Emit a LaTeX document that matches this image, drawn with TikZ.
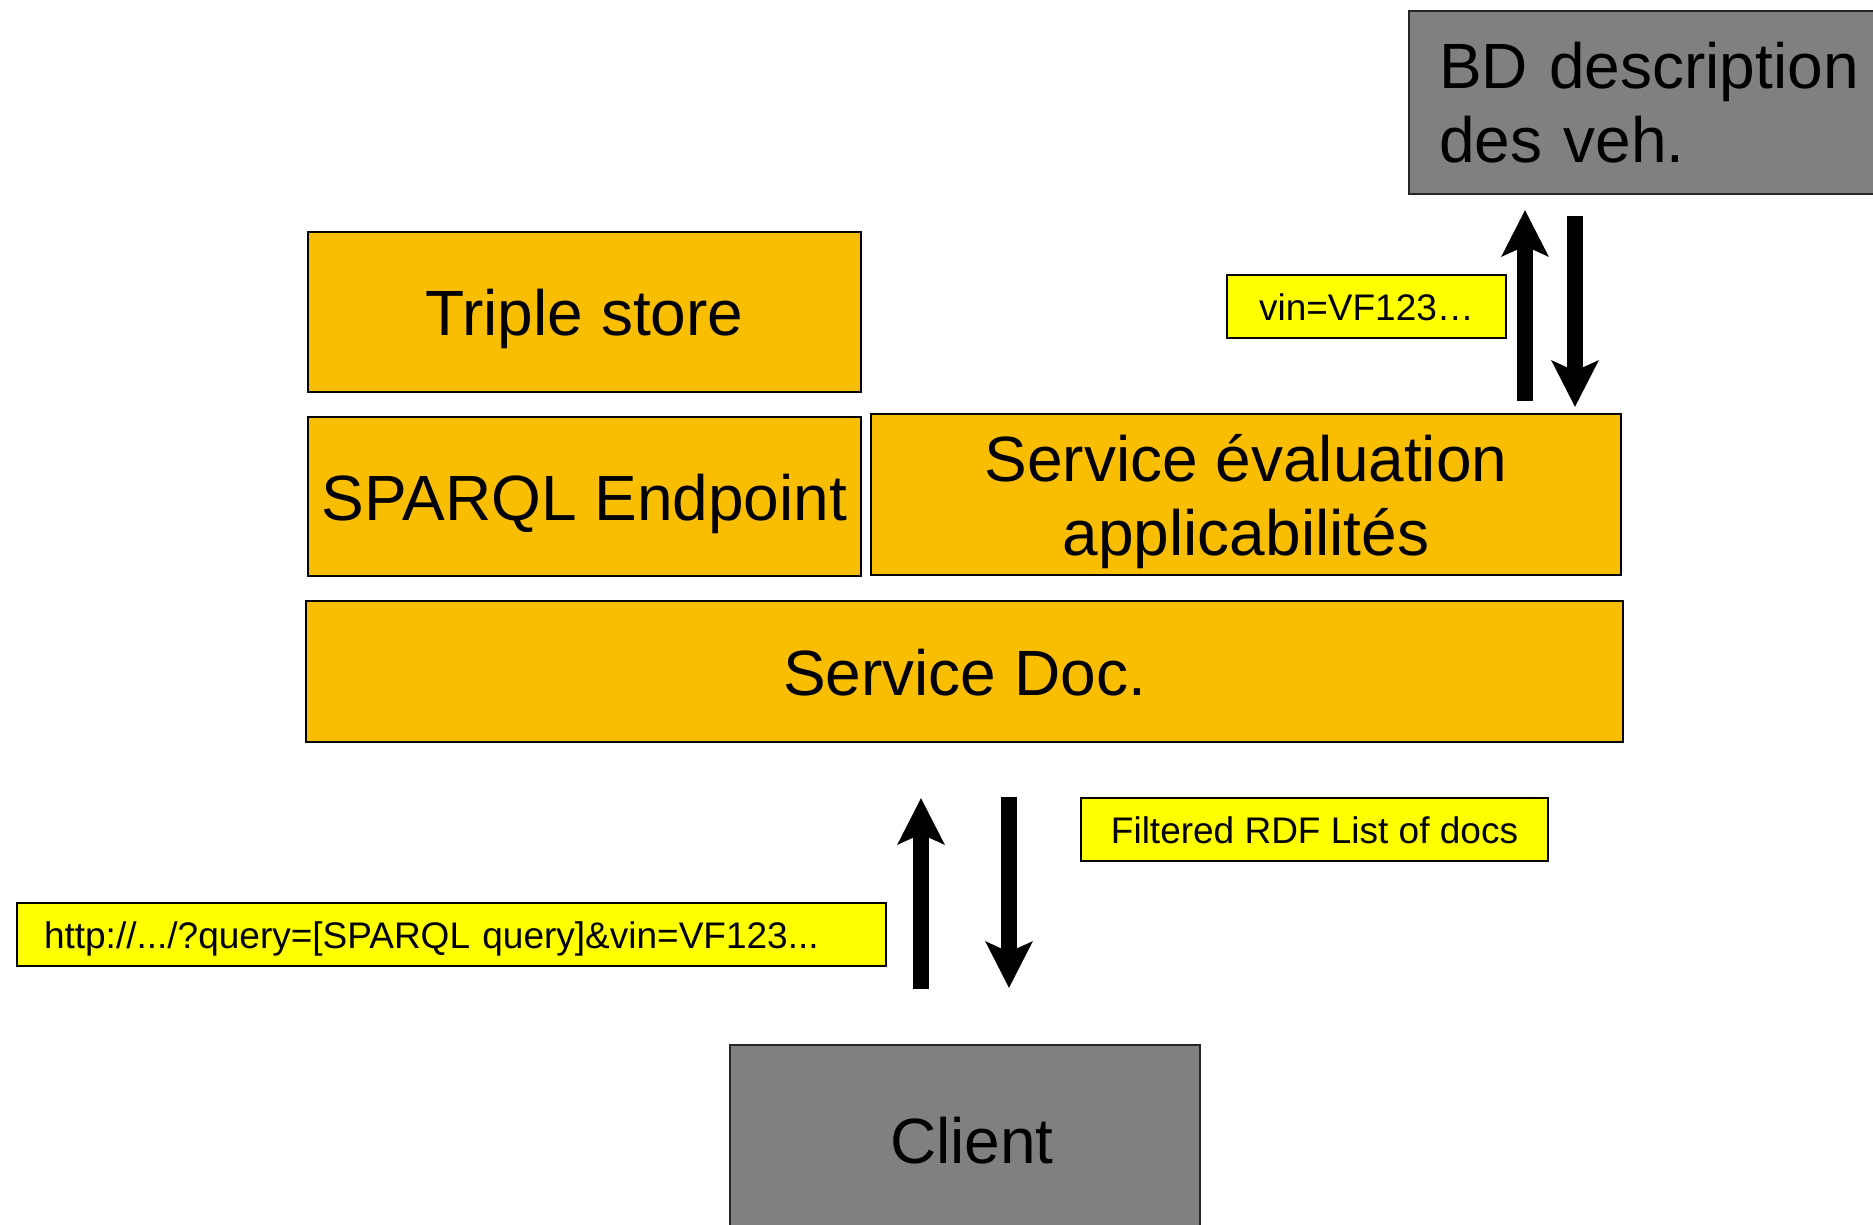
\documentclass[tikz,border=0pt]{standalone}
\usepackage{fontspec}
\setmainfont{Liberation Sans}
\usetikzlibrary{arrows.meta}
\definecolor{layer}{RGB}{250,190,0}
\definecolor{host}{RGB}{128,128,128}
\definecolor{tag}{RGB}{255,255,0}
\begin{document}
\begin{tikzpicture}[x=1pt,y=-1pt,
  every node/.style={inner sep=0pt, outer sep=0pt},
  bigfont/.style={font=\fontsize{64}{74}\selectfont},
  layerbox/.style={draw=black, line width=2.4pt, fill=layer, bigfont,
    anchor=north west, text height=47pt, text depth=0pt},
  hostbox/.style={draw=black!85, line width=2.4pt, fill=host, bigfont,
    anchor=north west},
  tagbox/.style={draw=black, line width=2.2pt, fill=tag,
    font=\fontsize{37}{44}\selectfont, anchor=north west,
    minimum height=63pt, text height=27pt, text depth=0pt},
  flow/.style={line width=16pt, -{Stealth[length=46pt,width=46pt,inset=10pt]}}
]
\useasboundingbox (0,0) rectangle (1873,1224);

% service layers
\node[layerbox, minimum width=553pt, minimum height=160pt] (triple) at (308,232) {Triple store};
\node[layerbox, minimum width=553pt, minimum height=159pt] (sparql) at (308,417) {SPARQL Endpoint};
\node[layerbox, minimum width=750pt, minimum height=161pt, align=center,
      text height=121pt] (eval) at (871,414) {Service évaluation\\applicabilités};
\node[layerbox, minimum width=1317pt, minimum height=141pt] (doc) at (306,601) {Service Doc.};

% external systems
\node[hostbox, minimum width=520pt, minimum height=183pt, text width=460pt,
      inner xsep=30pt, align=left, text height=45.8pt, text depth=74pt] (bd) at (1409,11)
      {BD description\\des veh.};
\node[hostbox, minimum width=470pt, minimum height=250pt] (client) at (730,1045) {};
\node[bigfont, anchor=base] (clienttxt) at (972,1163) {Client};

% exchanged messages
\node[tagbox, minimum width=279pt] (vin) at (1227,275) {vin=VF123…};
\node[tagbox, minimum width=467pt] (filtered) at (1081,798) {Filtered RDF List of docs};
\node[tagbox, text width=815pt, inner xsep=27pt, align=left] (http) at (17,903)
      {http://.../?query=[SPARQL query]\&vin=VF123...};

% request / response flows
\coordinate (upA) at (1525,0);
\coordinate (downA) at (1575,0);
\coordinate (upB) at (921,0);
\coordinate (downB) at (1009,0);
\draw[flow, shorten <=13pt, shorten >=16pt] (upA |- eval.north) -- (upA |- bd.south);
\draw[flow, shorten <=22pt, shorten >=7pt] (downA |- bd.south) -- (downA |- eval.north);
\draw[flow, shorten <=56pt, shorten >=56pt] (upB |- client.north) -- (upB |- doc.south);
\draw[flow, shorten <=55pt, shorten >=57pt] (downB |- doc.south) -- (downB |- client.north);
\end{tikzpicture}
\end{document}
